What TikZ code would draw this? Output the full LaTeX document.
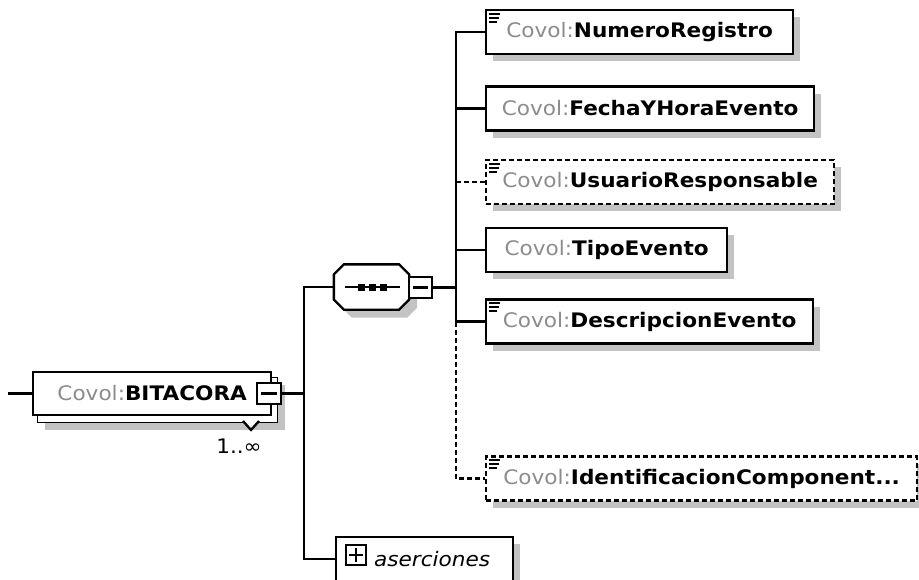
\documentclass[tikz,border=0pt]{standalone}
\usepackage{fontspec}
\setmainfont{DejaVu Sans}[FakeStretch=1.08]
\usetikzlibrary{positioning, shadows, backgrounds}
\definecolor{xgrey}{HTML}{8C8C8C}
\definecolor{xshade}{HTML}{C3C3C3}
\tikzset{
  every picture/.style={line width=2.3pt, font=\fontsize{20}{23}\selectfont},
  elem/.style={draw, fill=white, anchor=west, inner sep=0pt, minimum height=44pt,
    drop shadow={shadow xshift=7pt, shadow yshift=-7pt, fill=xshade, opacity=1}},
  optelem/.style={elem, dash pattern=on 5pt off 3pt},
  multelem/.style={draw, fill=white, anchor=west, inner sep=0pt, minimum height=43pt},
  octa/.style={draw, fill=white, drop shadow={shadow xshift=8pt, shadow yshift=-8pt, fill=xshade, opacity=1}},
  btn/.style={draw, fill=white, inner sep=0pt, minimum width=23pt, minimum height=21pt},
  wire/.style={draw, line width=2.3pt},
  optwire/.style={wire, dash pattern=on 5pt off 3pt},
  dot/.style={fill=black, inner sep=0pt, minimum size=7pt},
}
\newcommand{\pfx}[1]{{\color{xgrey}Covol:}\textbf{#1}}
% three short lines in the top left corner of a box
\newcommand{\docmark}[1]{%
  \draw[line width=1.8pt] ([xshift=4pt,yshift=-5pt]#1.north west) -- ++(11,0)
    ([xshift=4pt,yshift=-9pt]#1.north west) -- ++(10,0)
    ([xshift=4pt,yshift=-13pt]#1.north west) -- ++(8,0);}

\begin{document}
\begin{tikzpicture}[x=1pt, y=-1pt]
  \useasboundingbox (0,0) rectangle (919,579);

  % root element
  \coordinate (src) at (8,393.5);
  \node[multelem, minimum width=238pt] (bit) at (32,393.5) {\pfx{BITACORA}};
  \begin{scope}[on background layer]
    \fill[xshade] ([shift={(13,14)}]bit.north west) rectangle ([shift={(13,14)}]bit.south east);
    \draw[fill=white] ([shift={(5,6)}]bit.north west) rectangle ([shift={(5,6)}]bit.south east);
  \end{scope}
  \coordinate (vtip) at (251,430);
  \draw[fill=white] (243,421) -- (vtip) -- (259,421);
  \node (mult) at (239,446) {1..∞};
  \node[btn, minimum width=24pt] (bitbtn) at (269,393.5) {};
  \draw ([xshift=5pt]bitbtn.west) -- ([xshift=-5pt]bitbtn.east);
  \draw[wire] (src) -- (bit.west);

  % sequence
  \node[minimum width=73pt, minimum height=43pt, inner sep=0pt] (seq) at (371.5,287) {};
  \path[octa] ([xshift=10pt]seq.north west) -- ([xshift=-10pt]seq.north east)
    -- ([yshift=-10pt]seq.north east) -- ([yshift=10pt]seq.south east)
    -- ([xshift=-10pt]seq.south east) -- ([xshift=10pt]seq.south west)
    -- ([yshift=10pt]seq.south west) -- ([yshift=-10pt]seq.north west) -- cycle;
  \draw ([xshift=11pt]seq.west) -- ([xshift=-9pt]seq.east);
  \node[dot] (d1) at (361,287) {};
  \node[dot] (d2) at (372,287) {};
  \node[dot] (d3) at (383,287) {};
  \node[btn] (seqbtn) at (420.5,287.5) {};
  \draw ([xshift=5pt]seqbtn.west) -- ([xshift=-5pt]seqbtn.east);

  % children
  \node[elem, minimum width=307pt] (c1) at (485,32) {\pfx{NumeroRegistro}};
  \node[elem, minimum width=328pt] (c2) at (485,108.5) {\pfx{FechaYHoraEvento}};
  \node[optelem, minimum width=348pt] (c3) at (485,182) {\pfx{UsuarioResponsable}};
  \node[elem, minimum width=241pt] (c4) at (485,250) {\pfx{TipoEvento}};
  \node[elem, minimum width=327pt] (c5) at (485,321.5) {\pfx{DescripcionEvento}};
  \node[optelem, minimum width=431pt] (c6) at (485,478.5) {\pfx{IdentificacionComponent...}};
  \docmark{c1}
  \docmark{c3}
  \docmark{c5}
  \docmark{c6}

  % attribute group
  \node[elem, minimum width=177pt] (aser) at (335,559) {};
  \node[btn, minimum width=20pt, minimum height=20pt] (aserbtn) at (356,555) {};
  \draw ([xshift=4pt]aserbtn.west) -- ([xshift=-4pt]aserbtn.east)
    ([yshift=-4pt]aserbtn.north) -- ([yshift=4pt]aserbtn.south);
  \node[anchor=west, inner sep=0pt] (asertxt) at (373,559) {\textit{aserciones}};

  % connectors
  \draw[wire] (bitbtn.east) -- ++(22,0) coordinate (tr) |- (seq.west);
  \draw[wire] (tr) |- (aser.west);
  \draw[wire] (seqbtn.east) -- ++(23,0) coordinate (br);
  \foreach \c in {c1,c2,c4,c5}
    \draw[wire] (br) |- (\c.west);
  \draw[optwire] (br |- c3.west) -- (c3.west);
  \draw[optwire] (br |- c5.west) |- (c6.west);
\end{tikzpicture}
\end{document}
